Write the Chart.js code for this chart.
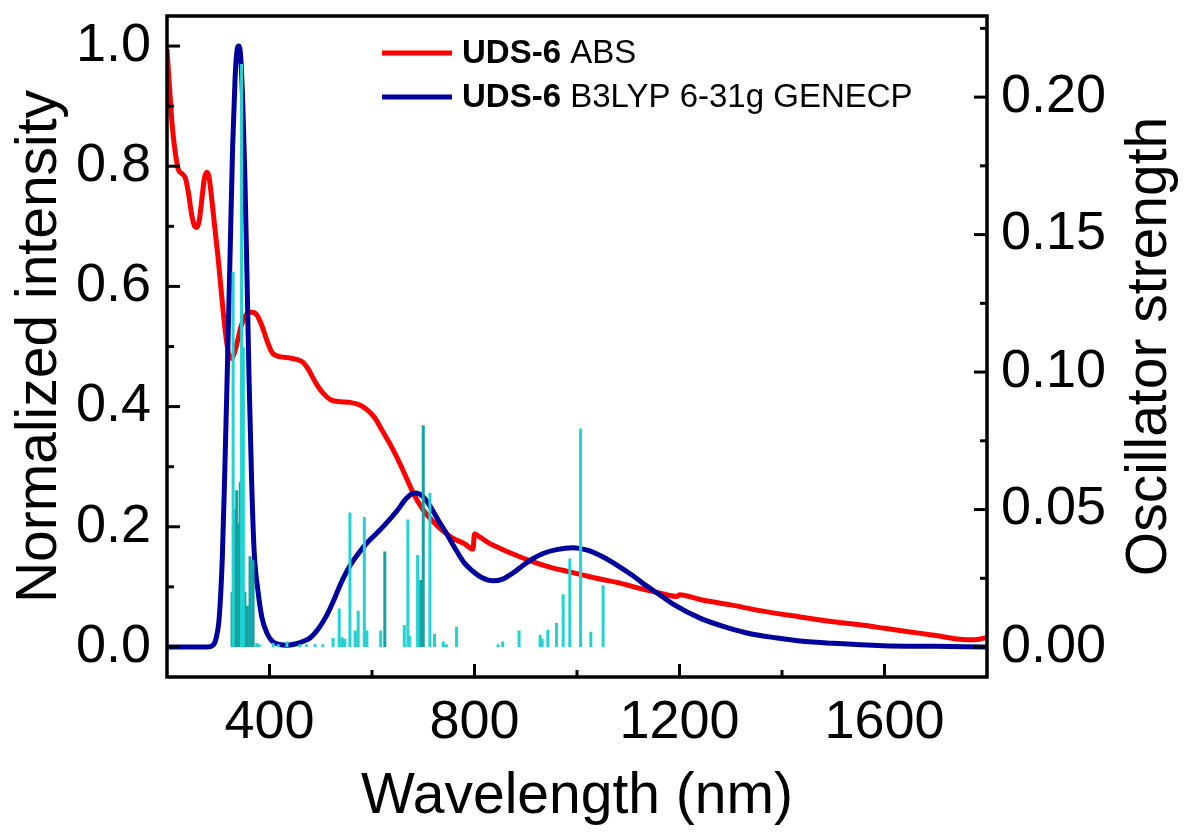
<!DOCTYPE html>
<html><head><meta charset="utf-8">
<script src="https://cdn.jsdelivr.net/npm/chart.js@4.4.1/dist/chart.umd.min.js"></script>
<style>html,body{margin:0;padding:0;background:#fff;}</style>
</head><body>
<canvas id="c" width="1184" height="837"></canvas>
<script>
// ---------- data ----------
const absNm = [200,205,210,215,222,230,236,242,248,254,258,263,268,273,278,282,287,293,300,305,310,316,323,328,335,345,355,365,375,385,395,405,420,440,455,465,475,490,505,520,540,557,575,590,605,620,640,660,680,700,720,740,760,780,797,800,810,830,850,880,910,947,980,1010,1045,1080,1120,1160,1195,1200,1240,1300,1360,1435,1500,1560,1600,1650,1700,1747,1775,1800];
const absVal = [0.995,0.93,0.87,0.83,0.795,0.787,0.78,0.755,0.72,0.70,0.698,0.71,0.745,0.78,0.79,0.782,0.748,0.70,0.645,0.60,0.555,0.51,0.48,0.482,0.50,0.535,0.553,0.557,0.553,0.535,0.51,0.49,0.483,0.481,0.478,0.474,0.463,0.44,0.422,0.411,0.408,0.407,0.403,0.395,0.382,0.36,0.33,0.295,0.257,0.228,0.208,0.192,0.18,0.172,0.163,0.188,0.183,0.172,0.164,0.153,0.143,0.133,0.126,0.12,0.113,0.107,0.098,0.09,0.084,0.087,0.079,0.07,0.06,0.05,0.042,0.036,0.031,0.025,0.019,0.013,0.012,0.016];

const calcNm = [200,280,290,296,302,308,313,318,323,328,333,337,340,344,348,352,356,360,365,370,378,385,395,405,420,435,450,465,479,495,510,524,540,557,575,590,610,629,650,668,684,700,715,730,746,765,780,797,815,836,855,875,895,914,935,960,993,1020,1050,1080,1110,1130,1156,1190,1240,1290,1338,1390,1435,1500,1597,1700,1800];
const calcVal = [0,0,0.003,0.015,0.05,0.15,0.30,0.47,0.65,0.83,0.95,0.995,1.0,0.98,0.90,0.78,0.62,0.45,0.28,0.16,0.09,0.05,0.023,0.01,0.004,0.003,0.005,0.009,0.015,0.03,0.05,0.075,0.107,0.135,0.157,0.173,0.19,0.207,0.228,0.248,0.256,0.25,0.232,0.21,0.188,0.16,0.14,0.126,0.115,0.11,0.113,0.123,0.136,0.147,0.156,0.162,0.165,0.161,0.15,0.135,0.118,0.105,0.09,0.07,0.048,0.033,0.022,0.015,0.01,0.006,0.002,0.001,0];

const stickNmCyan = [329,345.5,349,375,380,407,417,434,459,472,489,504,524,536,542,547,557,567,573,585,590,617,663,670,673,689,713,722,739,745,765,846,855,887,928,932,943,960,973,986,1007,1027,1051];
const stickFCyan  = [0.1365,0.212,0.109,0.0015,0.001,0.0015,0.001,0.002,0.001,0.001,0.001,0.001,0.0033,0.014,0.0036,0.003,0.0489,0.006,0.0132,0.0473,0.006,0.006,0.008,0.0464,0.004,0.0335,0.0561,0.0047,0.002,0.001,0.0074,0.001,0.002,0.006,0.0045,0.003,0.0062,0.0087,0.0192,0.0322,0.0795,0.0056,0.0225];
const stickNmTeal = [327,332,334,336,338,341,343,352,356,362,368,625,695,700];
const stickFTeal  = [0.02,0.035,0.05,0.057,0.045,0.039,0.06,0.02,0.015,0.033,0.0316,0.0347,0.0244,0.0807];

const xTicks = [400,800,1200,1600];
const xMinor = [600,1000,1400];
const yLeftTicks = [0,0.2,0.4,0.6,0.8,1.0];
const yLeftMinor = [0.1,0.3,0.5,0.7,0.9];
const yRightTicks = [0,0.05,0.10,0.15,0.20];
const yRightMinor = [0.025,0.075,0.125,0.175,0.225];

const seriesNames = ['ABS','B3LYP 6-31g GENECP'];
const compound = 'UDS-6';

// ---------- helpers ----------
const pts = (xs, ys) => xs.map((x,i)=>({x, y: ys[i]}));
const sticks = (xs, ys) => {
  const out = [];
  xs.forEach((x,i)=>{ out.push({x,y:0}); out.push({x,y:ys[i]}); out.push({x,y:null}); });
  return out;
};
const FONT = 'Liberation Sans, Arial, sans-serif';
const TICK_SIZE = 54, TITLE_SIZE = 57, LEG_SIZE = 33;

const framePlugin = {
  id: 'frame',
  afterDraw(chart) {
    const {ctx, chartArea: a, scales} = chart;
    ctx.save();
    ctx.strokeStyle = '#000';
    ctx.lineCap = 'butt';
    ctx.lineWidth = 3;
    const tick = (x1,y1,x2,y2)=>{ctx.beginPath();ctx.moveTo(x1,y1);ctx.lineTo(x2,y2);ctx.stroke();};
    xTicks.forEach(v=>{const p=scales.x.getPixelForValue(v); tick(p,a.bottom,p,a.bottom-13);});
    xMinor.forEach(v=>{const p=scales.x.getPixelForValue(v); tick(p,a.bottom,p,a.bottom-7);});
    yLeftTicks.forEach(v=>{const p=scales.y.getPixelForValue(v); tick(a.left,p,a.left+13,p);});
    yLeftMinor.forEach(v=>{const p=scales.y.getPixelForValue(v); tick(a.left,p,a.left+7,p);});
    yRightTicks.forEach(v=>{const p=scales.y2.getPixelForValue(v); tick(a.right,p,a.right-13,p);});
    yRightMinor.forEach(v=>{const p=scales.y2.getPixelForValue(v); tick(a.right,p,a.right-7,p);});
    ctx.lineWidth = 3.5;
    ctx.strokeRect(a.left, a.top, a.right-a.left, a.bottom-a.top);
    ctx.fillStyle = '#000';
    ctx.font = TITLE_SIZE + 'px ' + FONT;
    ctx.textAlign = 'center';
    ctx.textBaseline = 'middle';
    ctx.translate(1150, (a.top+a.bottom)/2);
    ctx.rotate(-Math.PI/2);
    ctx.fillText('Oscillator strength', 0, 0);
    ctx.restore();

    ctx.save();
    const rows = [
      {color:'#FF0000', y:53, name: seriesNames[0]},
      {color:'#00009C', y:97, name: seriesNames[1]}
    ];
    ctx.textBaseline = 'middle';
    ctx.textAlign = 'left';
    rows.forEach(r=>{
      ctx.strokeStyle = r.color; ctx.lineWidth = 5;
      ctx.beginPath(); ctx.moveTo(382, r.y); ctx.lineTo(452, r.y); ctx.stroke();
      ctx.fillStyle = '#000';
      ctx.font = 'bold ' + LEG_SIZE + 'px ' + FONT;
      const bx = 462;
      ctx.fillText(compound, bx, r.y+1);
      const w = ctx.measureText(compound + ' ').width;
      ctx.font = LEG_SIZE + 'px ' + FONT;
      ctx.fillText(r.name, bx + w, r.y+1);
    });
    ctx.restore();
  }
};

const zeroPadV = s=>{s.paddingTop=0; s.paddingBottom=0;};

new Chart(document.getElementById('c'), {
  type: 'line',
  data: {
    datasets: [
      {label:'UDS-6 TDDFT sticks', data: sticks(stickNmCyan, stickFCyan), yAxisID:'y2', borderColor:'#22D3D3', borderWidth:3, spanGaps:false, tension:0, order:0},
      {label:'UDS-6 TDDFT sticks (2)', data: sticks(stickNmTeal, stickFTeal), yAxisID:'y2', borderColor:'#14A3A3', borderWidth:3, spanGaps:false, tension:0, order:0},
      {label:'UDS-6 ABS', data: pts(absNm, absVal), yAxisID:'y', borderColor:'#FF0000', borderWidth:5, tension:0.4, cubicInterpolationMode:'monotone', order:2},
      {label:'UDS-6 B3LYP 6-31g GENECP', data: pts(calcNm, calcVal), yAxisID:'y', borderColor:'#00009C', borderWidth:5, tension:0.4, cubicInterpolationMode:'monotone', order:1}
    ]
  },
  options: {
    responsive:false, animation:false,
    layout:{padding:{top:16,left:0,right:0,bottom:0}},
    elements:{point:{radius:0}, line:{borderCapStyle:'butt'}},
    plugins:{legend:{display:false}, tooltip:{enabled:false}},
    scales:{
      x:{type:'linear', min:200, max:1800, position:'bottom',
         grid:{display:false, drawTicks:false}, border:{display:false},
         afterBuildTicks:s=>{s.ticks = xTicks.map(v=>({value:v}));},
         ticks:{color:'#000', font:{family:FONT, size:TICK_SIZE}, padding:14, maxRotation:0, callback:v=>String(v)},
         title:{display:true, text:'Wavelength (nm)', color:'#000', font:{family:FONT, size:TITLE_SIZE}, padding:6},
         afterFit:s=>{s.height=160; s.paddingLeft=0; s.paddingRight=0;}},
      y:{type:'linear', min:-0.05, max:1.05, position:'left',
         grid:{display:false, drawTicks:false}, border:{display:false},
         afterBuildTicks:s=>{s.ticks = yLeftTicks.map(v=>({value:v}));},
         ticks:{color:'#000', font:{family:FONT, size:TICK_SIZE}, padding:16, callback:v=>Number(v).toFixed(1)},
         title:{display:true, text:'Normalized intensity', color:'#000', font:{family:FONT, size:TITLE_SIZE}, padding:6},
         afterFit:s=>{s.width=167; zeroPadV(s);}},
      y2:{type:'linear', min:-0.0109, max:0.2295, position:'right',
         grid:{display:false, drawTicks:false}, border:{display:false},
         afterBuildTicks:s=>{s.ticks = yRightTicks.map(v=>({value:v}));},
         ticks:{color:'#000', font:{family:FONT, size:TICK_SIZE}, padding:14, callback:v=>Number(v).toFixed(2)},
         afterFit:s=>{s.width=197; zeroPadV(s);}}
    }
  },
  plugins:[framePlugin]
});
</script>
</body></html>
